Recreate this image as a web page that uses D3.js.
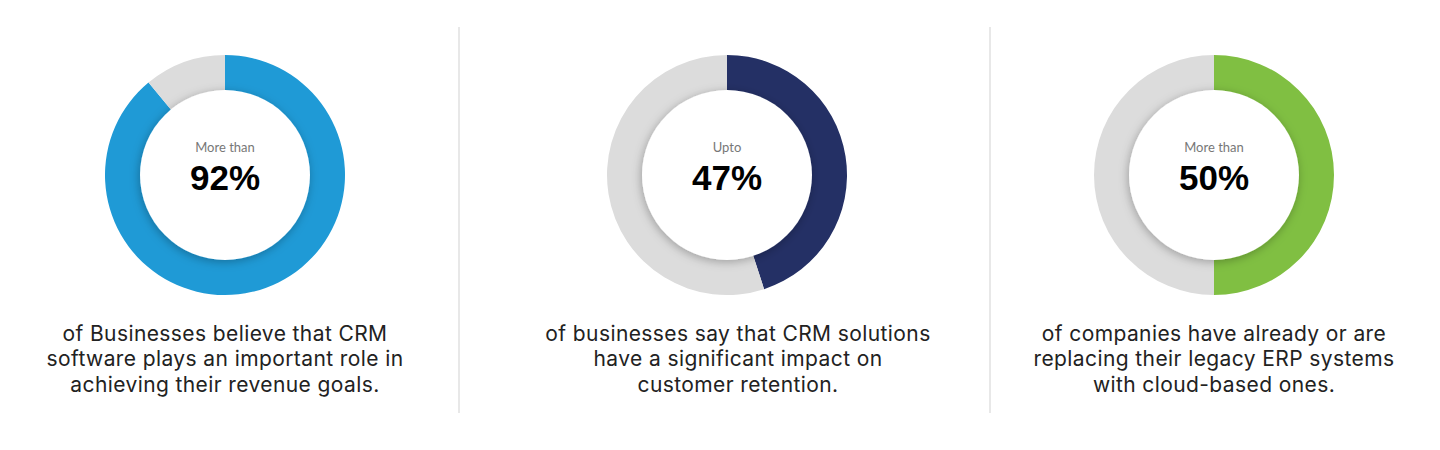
<!DOCTYPE html>
<html>
<head>
<meta charset="utf-8">
<script src="https://cdn.jsdelivr.net/npm/d3@7"></script>
<style>
  html, body { margin: 0; padding: 0; background: #fff; }
  svg { display: block; }
</style>
</head>
<body>
<svg id="chart"></svg>
<script>
// values
var prefixes = ["More than", "Upto", "More than"];
var labels = ["92%", "47%", "50%"];
var shares = [89, 45, 50];   // filled part of each ring, as drawn
var colors = ["#1f9ad6", "#243065", "#80bf42"];
var captions = [
    ["of Businesses believe that CRM", "software plays an important role in", "achieving their revenue goals."],
    ["of businesses say that CRM solutions", "have a significant impact on", "customer retention."],
    ["of companies have already or are", "replacing their legacy ERP systems", "with cloud-based ones."]
];

var width = 1440,
    height = 450;
var donutX = [225, 727, 1214];
var textX = [225, 738, 1214];
var cy = 175;
var outer = 120, inner = 85;
var rest = "#dcdcdc";

var svg = d3.select("#chart")
    .attr("width", width)
    .attr("height", height);

var defs = svg.append("defs");
var f = defs.append("filter")
    .attr("id", "shade")
    .attr("x", "-30%").attr("y", "-30%")
    .attr("width", "160%").attr("height", "160%");
f.append("feDropShadow")
    .attr("dx", -1).attr("dy", 2)
    .attr("stdDeviation", 5)
    .attr("flood-color", "#000")
    .attr("flood-opacity", 0.28);

// divider lines
svg.selectAll(".divider")
    .data([459, 990])
    .enter().append("line")
    .attr("class", "divider")
    .attr("x1", d => d).attr("x2", d => d)
    .attr("y1", 27).attr("y2", 413)
    .style("stroke", "#e0e0e0")
    .style("stroke-width", 1.5);

var arc = d3.arc()
    .outerRadius(outer)
    .innerRadius(inner - 2);

var pie = d3.pie()
    .sort(null)
    .value(d => d);

var g = svg.selectAll(".panel")
    .data(shares)
    .enter().append("g")
    .attr("class", "panel");

g.each(function(v, i) {
    var p = d3.select(this);
    var ring = p.append("g")
        .attr("transform", "translate(" + donutX[i] + "," + cy + ")");

    ring.selectAll("path")
        .data(pie([v, 100 - v]))
        .enter().append("path")
        .attr("d", arc)
        .style("fill", (d, j) => j == 0 ? colors[i] : rest);

    ring.append("circle")
        .attr("r", inner)
        .style("fill", "#fff")
        .attr("filter", "url(#shade)");

    ring.append("text")
        .attr("y", -23)
        .attr("text-anchor", "middle")
        .style("font-family", "Lato, 'Open Sans', sans-serif")
        .style("font-size", "13px")
        .style("fill", "#777")
        .text(prefixes[i]);

    ring.append("text")
        .attr("y", 15)
        .attr("text-anchor", "middle")
        .style("font-family", "'Liberation Sans', Arial, sans-serif")
        .style("font-weight", "bold")
        .style("font-size", "35px")
        .style("fill", "#000")
        .text(labels[i]);

    p.append("text")
        .attr("text-anchor", "middle")
        .style("font-family", "Inter, sans-serif")
        .style("font-size", "21px")
        .style("letter-spacing", "0.4px")
        .style("fill", "#222")
        .selectAll("tspan")
        .data(captions[i])
        .enter().append("tspan")
        .attr("x", textX[i])
        .attr("y", (d, j) => 341 + j * 25.3)
        .text(d => d);
});
</script>
</body>
</html>
